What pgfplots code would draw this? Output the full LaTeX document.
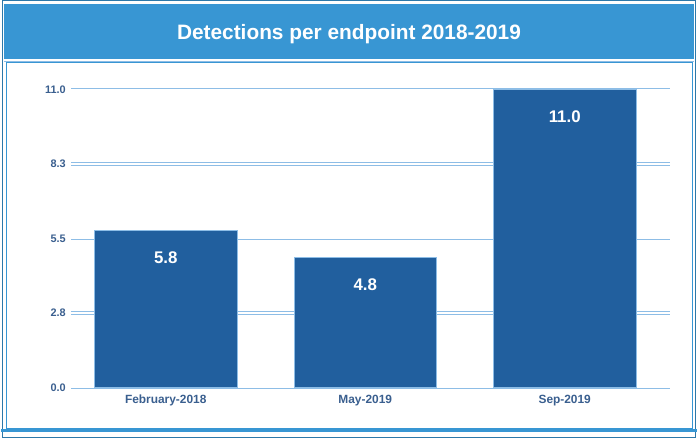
\documentclass[border=0pt]{standalone}
\usepackage{fontspec}
\setmainfont{Liberation Sans}
\usepackage{pgfplots}
\pgfplotsset{compat=1.18}

\definecolor{banner}{HTML}{3896D3}
\definecolor{barblue}{HTML}{215F9E}
\definecolor{gridblue}{HTML}{8DBDE6}
\definecolor{ticktext}{HTML}{3A5F8F}

\begin{document}
\begin{tikzpicture}[x=1bp,y=1bp]
  % page and frames
  \fill[white] (0,0) rectangle (698,440);
  \draw[banner!80!black, line width=1bp] (1,1) rectangle (697,439);
  \fill[banner] (3,436) rectangle (695,381);
  \draw[gridblue, line width=1.5bp] (3,378) -- (695,378);
  \draw[banner, line width=1.2bp] (5,377) rectangle (694,10);
  \draw[banner, line width=3bp] (0,8) -- (698,8);
  \node[text=white, font=\bfseries\fontsize{21}{24}\selectfont] at (349,406)
    {Detections per endpoint 2018-2019};

  \begin{axis}[
      at={(70bp,51bp)}, anchor=south west,
      scale only axis,
      width=601bp, height=299bp,
      xmin=-0.474, xmax=2.526,
      ymin=0, ymax=11,
      axis line style={draw=none},
      major tick style={draw=none},
      ytick={0,2.75,5.5,8.25,11},
      yticklabels={0.0,2.8,5.5,8.3,11.0},
      xtick={0,1,2},
      xticklabels={February-2018,May-2019,Sep-2019},
      ymajorgrids,
      major grid style={draw=gridblue, line width=0.8bp, double=white, double distance=2bp},
      yticklabel style={font=\bfseries\fontsize{11}{12}\selectfont, text=ticktext, xshift=-2bp},
      xticklabel style={font=\bfseries\fontsize{12}{13}\selectfont, text=ticktext},
      /pgf/number format/assume math mode=true,
      ybar, bar width=143bp, bar shift=0pt,
      nodes near coords,
      nodes near coords style={anchor=center, yshift=-27bp, text=white,
        font=\bfseries\fontsize{17}{19}\selectfont,
        /pgf/number format/fixed, /pgf/number format/fixed zerofill,
        /pgf/number format/precision=1},
    ]
    \addplot[fill=barblue, draw=gridblue, line width=0.6bp] coordinates {
      (0,5.8) (1,4.8) (2,11.0)
    };
  \end{axis}
\end{tikzpicture}
\end{document}
